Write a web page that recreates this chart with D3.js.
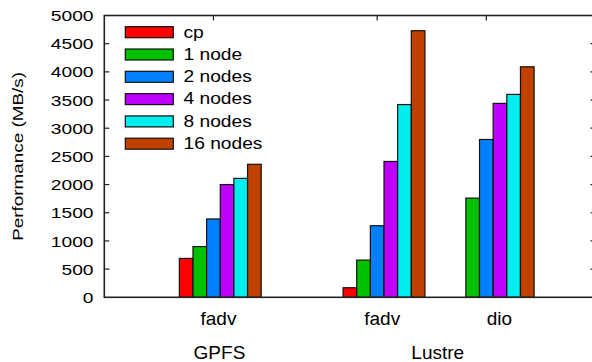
<!DOCTYPE html>
<html>
<head>
<meta charset="utf-8">
<script src="https://cdn.jsdelivr.net/npm/d3@7"></script>
<style>
  html, body { margin: 0; padding: 0; background: #fff; }
  svg { display: block; font-family: "Liberation Sans", Arial, Helvetica, sans-serif; }
</style>
</head>
<body>
<svg id="chart" width="592" height="362"></svg>
<script>
// ---- data -------------------------------------------------------------
const fileSystems = ["GPFS", "Lustre"];
const categories = ["fadv", "fadv", "dio"];
const categoryFs = ["GPFS", "Lustre", "Lustre"];
const seriesNames = ["cp", "1 node", "2 nodes", "4 nodes", "8 nodes", "16 nodes"];
const seriesColors = ["#ff0000", "#00c000", "#0080ff", "#c000ff", "#00eeee", "#c04000"];
const cpValues     = [690, 170, null];
const node1Values  = [900, 660, 1760];
const node2Values  = [1390, 1270, 2800];
const node4Values  = [2000, 2410, 3440];
const node8Values  = [2110, 3420, 3600];
const node16Values = [2360, 4730, 4090];
const yTicks = [0, 500, 1000, 1500, 2000, 2500, 3000, 3500, 4000, 4500, 5000];
const yLabel = "Performance (MB/s)";

const seriesValues = [cpValues, node1Values, node2Values, node4Values, node8Values, node16Values];

// ---- layout -----------------------------------------------------------
const svg = d3.select("#chart");
const plot = { left: 104.3, right: 595.5, top: 15.5, bottom: 297.3 };

// cluster slots: 1 unit apart inside a file system, an extra half unit between file systems
const slots = [];
categories.forEach((c, i) => {
  if (i === 0) slots.push(0);
  else slots.push(slots[i - 1] + (categoryFs[i] === categoryFs[i - 1] ? 1 : 1.5));
});

const x = d3.scaleLinear().domain([-1, slots[slots.length - 1] + 1]).range([plot.left, plot.right]);
const y = d3.scaleLinear().domain([0, 5000]).range([plot.bottom, plot.top]);

const nSeries = seriesNames.length;
const barW = 1 / (nSeries + 2);           // histogram gap of 2 bar widths
const barX = (slot, k) => x(slot + (k - 2.5) * barW);
const barPx = x(barW) - x(0);

// stretched text helper (glyphs are drawn wider than their height)
function label(parent, tx, ty, str, opts) {
  const o = Object.assign({ size: 15.5, sx: 1.0, anchor: "start", rotate: 0 }, opts || {});
  return parent.append("text")
    .attr("transform", `translate(${tx},${ty}) rotate(${o.rotate}) scale(${o.sx},1)`)
    .attr("text-anchor", o.anchor)
    .attr("font-size", o.size)
    .attr("fill", "#000")
    .text(str);
}

const axisColor = "#222";
const tickLen = 5;

// ---- y axis ticks (left, mirrored right) ------------------------------
const gTicks = svg.append("g").attr("stroke", axisColor).attr("stroke-width", 1.2);
yTicks.forEach(v => {
  if (v === 0 || v === 5000) return;
  gTicks.append("line").attr("x1", plot.left).attr("x2", plot.left + tickLen).attr("y1", y(v)).attr("y2", y(v));
  gTicks.append("line").attr("x1", plot.right - tickLen).attr("x2", plot.right).attr("y1", y(v)).attr("y2", y(v));
});
// category ticks, top and bottom
slots.forEach(s => {
  gTicks.append("line").attr("x1", x(s)).attr("x2", x(s)).attr("y1", plot.top).attr("y2", plot.top + tickLen);
  gTicks.append("line").attr("x1", x(s)).attr("x2", x(s)).attr("y1", plot.bottom).attr("y2", plot.bottom - tickLen);
});

// ---- bars ---------------------------------------------------------------
const gBars = svg.append("g");
seriesValues.forEach((vals, k) => {
  gBars.selectAll(null)
    .data(vals.map((v, i) => ({ v, slot: slots[i] })).filter(d => d.v != null))
    .enter().append("rect")
    .attr("x", d => barX(d.slot, k))
    .attr("y", d => y(d.v))
    .attr("width", barPx)
    .attr("height", d => y(0) - y(d.v))
    .attr("fill", seriesColors[k])
    .attr("stroke", "#111")
    .attr("stroke-width", 1.2);
});

// ---- border ---------------------------------------------------------------
svg.append("rect")
  .attr("x", plot.left).attr("y", plot.top)
  .attr("width", plot.right - plot.left).attr("height", plot.bottom - plot.top)
  .attr("fill", "none").attr("stroke", axisColor).attr("stroke-width", 1.6);

// ---- y tick labels ---------------------------------------------------------
yTicks.forEach(v => {
  label(svg, 93.5, y(v) + 5.6, String(v), { anchor: "end", size: 15.5, sx: 1.24 });
});

// y axis title
label(svg, 23, (plot.top + plot.bottom) / 2, yLabel, { anchor: "middle", size: 15, sx: 1.26, rotate: -90 });

// ---- x category labels --------------------------------------------------------
const catLabelShift = [5, 5, 13];
categories.forEach((c, i) => {
  label(svg, x(slots[i]) + catLabelShift[i], 325.3, c, { anchor: "middle", size: 19 });
});
fileSystems.forEach(fs => {
  const s = slots.filter((_, i) => categoryFs[i] === fs);
  const cx = (x(d3.min(s)) + x(d3.max(s))) / 2 + 6;
  label(svg, cx, 358.5, fs, { anchor: "middle", size: 19 });
});

// ---- legend -------------------------------------------------------------------
const leg = svg.append("g");
seriesNames.forEach((name, k) => {
  const top = 26.7 + k * 22.3;
  leg.append("rect")
    .attr("x", 125.3).attr("y", top).attr("width", 48).attr("height", 11)
    .attr("fill", seriesColors[k]).attr("stroke", "#111").attr("stroke-width", 1.2);
  label(leg, 183.5, top + 10.8, name, { size: 16, sx: 1.2 });
});
</script>
</body>
</html>
